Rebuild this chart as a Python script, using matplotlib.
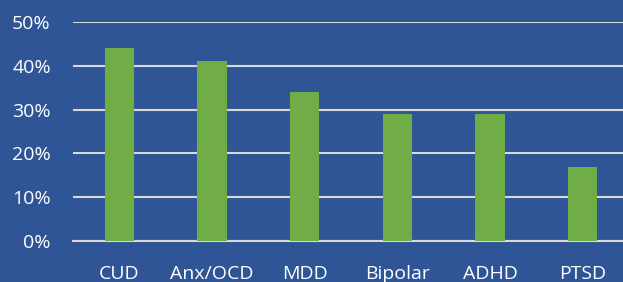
import matplotlib.pyplot as plt
from matplotlib.ticker import PercentFormatter

# data
categories = ["CUD", "Anx/OCD", "MDD", "Bipolar", "ADHD", "PTSD"]
values = [44, 41, 34, 29, 29, 17]
yticks = [0, 10, 20, 30, 40, 50]

bg = "#2F5597"
bar_color = "#70AD47"
grid_color = "#D9D9D9"

plt.rcParams['font.family'] = ['Open Sans', 'DejaVu Sans']

fig = plt.figure(figsize=(6.23, 2.82), dpi=100, facecolor=bg)
# axes extends a bit past the right edge, like the original slide crop
ax = fig.add_axes([73 / 623, 41 / 282, 556 / 623, 219 / 282])
ax.set_facecolor(bg)

x = range(len(categories))
ax.bar(x, values, width=0.315, color=bar_color, zorder=3)

ax.set_xlim(-0.5, len(categories) - 0.5)
ax.set_ylim(0, 50)
ax.set_yticks(yticks)
ax.yaxis.set_major_formatter(PercentFormatter(decimals=0))
ax.set_xticks(list(x))
ax.set_xticklabels(categories)

ax.grid(axis="y", color=grid_color, linewidth=1.5, zorder=1)
for s in ["top", "right", "left"]:
    ax.spines[s].set_visible(False)
ax.spines["bottom"].set_color(grid_color)
ax.spines["bottom"].set_linewidth(1.5)

ax.tick_params(axis="y", length=0, pad=16, labelsize=14, labelcolor="white")
ax.tick_params(axis="x", length=0, pad=17, labelsize=14, labelcolor="white")

fig.savefig("out.png", dpi=100, facecolor=bg)
